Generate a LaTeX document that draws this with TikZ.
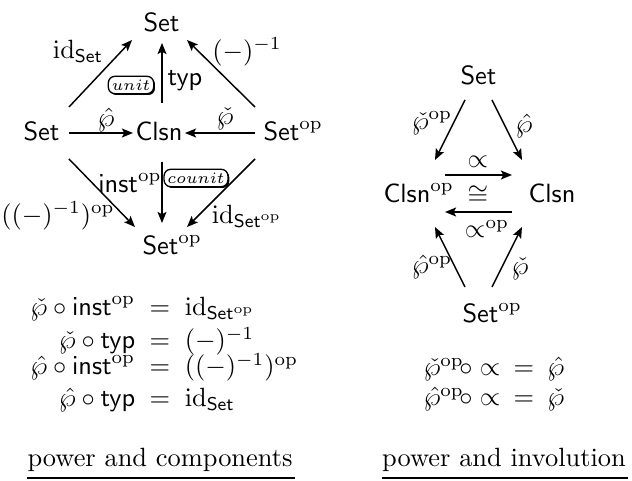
\documentclass[tikz,border=0pt]{standalone}
\usetikzlibrary{arrows.meta,shadows}
\begin{document}
\begin{tikzpicture}[x=0.3788pt,y=-0.3788pt,
  obj/.style={inner sep=0pt, anchor=base west},
  lbl/.style={inner sep=0pt},
  arr/.style={-{Stealth[length=4.2pt,width=3.4pt,inset=0.9pt]}, line width=0.55pt},
  cellbox/.style={draw, fill=white, rounded corners=2.5pt, line width=0.5pt, inner xsep=1.3pt, inner ysep=1.3pt, font=\fontsize{6}{7}\selectfont, drop shadow={shadow xshift=0.5pt, shadow yshift=-0.5pt, fill=black, opacity=1}},
  ul/.style={line width=1.1pt},
  eq/.style={inner sep=0pt, anchor=base}]
\useasboundingbox (0,0) rectangle (632,481);

% ---------- left diagram ----------
\node[obj] (sT) at (143,32) {$\mathsf{Set}$};
\node[obj] (sL) at (23,141) {$\mathsf{Set}$};
\node[obj] (cl) at (135,141) {$\mathsf{Clsn}$};
\node[obj] (sR) at (263,141) {$\mathsf{Set}^{\mathrm{op}}$};
\node[obj] (sB) at (142,255) {$\mathsf{Set}^{\mathrm{op}}$};

\draw[arr] ([shift={(9,-34)}]sL.base east) -- ([shift={(-11,8)}]sT.base west);
\draw[arr] ([shift={(-8,-34)}]sR.base west) -- ([shift={(44,8)}]sT.base west);
\draw[arr] ([shift={(9,-8)}]sL.base east) -- ([shift={(-2,-8)}]cl.base west);
\draw[arr] ([shift={(-8,-8)}]sR.base west) -- ([shift={(2,-8)}]cl.base east);
\draw[arr] ([shift={(27,-38)}]cl.base west) -- ([shift={(19,11)}]sT.base west);
\draw[arr] ([shift={(9,18)}]sL.base east) -- ([shift={(-7,-28)}]sB.base west);
\draw[arr] ([shift={(-8,18)}]sR.base west) -- ([shift={(45,-28)}]sB.base west);
\draw[arr] ([shift={(27,21)}]cl.base west) -- ([shift={(20,-32)}]sB.base west);

\node[lbl] (lidS) at (78,51) {$\mathrm{id}_{\mathsf{Set}}$};
\node[lbl] (linv) at (247,52) {$(-)^{-1}$};
\node[lbl] (ltyp) at (185,81) {$\mathsf{typ}$};
\node[cellbox] (unit) at (131,85) {$unit$};
\node[lbl] (lph) at (106,120) {$\hat\wp$};
\node[lbl] (lpc) at (225,119) {$\check\wp$};
\node[lbl] (linst) at (130,183) {$\mathsf{inst}^{\mathrm{op}}$};
\node[cellbox] (counit) at (196,178) {$counit$};
\node[lbl] (linvop) at (58,216) {$((-)^{-1})^{\mathrm{op}}$};
\node[lbl] (lidSop) at (247,216) {$\mathrm{id}_{\mathsf{Set}^{\mathrm{op}}}$};

\node[eq] (e1) at (160,316) {\llap{$\check\wp\circ\mathsf{inst}^{\mathrm{op}}$\hspace{5.5pt}}$=$\rlap{\hspace{5.5pt}$\mathrm{id}_{\mathsf{Set}^{\mathrm{op}}}$}};
\node[eq] (e2) at (160,349) {\llap{$\check\wp\circ\mathsf{typ}$\hspace{5.5pt}}$=$\rlap{\hspace{5.5pt}$(-)^{-1}$}};
\node[eq] (e3) at (160,375) {\llap{$\hat\wp\circ\mathsf{inst}^{\mathrm{op}}$\hspace{5.5pt}}$=$\rlap{\hspace{5.5pt}$((-)^{-1})^{\mathrm{op}}$}};
\node[eq] (e4) at (160,407) {\llap{$\hat\wp\circ\mathsf{typ}$\hspace{5.5pt}}$=$\rlap{\hspace{5.5pt}$\mathrm{id}_{\mathsf{Set}}$}};

\node[eq] (capL) at (160,467) {power and components};
\draw[ul] ([shift={(0,11)}]capL.base west) -- ([shift={(2,11)}]capL.base east);

% ---------- right diagram ----------
\node[obj] (rT) at (460,85) {$\mathsf{Set}$};
\node[obj] (rCo) at (383,203) {$\mathsf{Clsn}^{\mathrm{op}}$};
\node[obj] (rC) at (528,203) {$\mathsf{Clsn}$};
\node[obj] (rB) at (462,323) {$\mathsf{Set}^{\mathrm{op}}$};
\node[eq] (iso) at (478,203) {$\cong$};

\draw[arr] ([shift={(5,15)}]rT.base west) -- ([shift={(52,-43)}]rCo.base west);
\draw[arr] ([shift={(32,15)}]rT.base west) -- ([shift={(-6,-43)}]rC.base west);
\draw[arr] ([shift={(62,-28)}]rCo.base west) -- ([shift={(-16,-28)}]rC.base west);
\draw[arr] ([shift={(-16,9)}]rC.base west) -- ([shift={(62,9)}]rCo.base west);
\draw[arr] ([shift={(3,-36)}]rB.base west) -- ([shift={(52,24)}]rCo.base west);
\draw[arr] ([shift={(30,-36)}]rB.base west) -- ([shift={(-6,24)}]rC.base west);

\node[lbl] (rl1) at (432,123) {$\check\wp^{\mathrm{op}}$};
\node[lbl] (rl2) at (524,126) {$\hat\wp$};
\node[lbl] (rl3) at (478,162) {$\propto$};
\node[lbl] (rl4) at (487,229) {$\propto^{\mathrm{op}}$};
\node[lbl] (rl5) at (432,267) {$\hat\wp^{\mathrm{op}}$};
\node[lbl] (rl6) at (520,269) {$\check\wp$};

\node[eq] (r1) at (524,376) {\llap{$\check\wp^{\mathrm{op}}\!\circ\propto$\hspace{5pt}}$=$\rlap{\hspace{5pt}$\hat\wp$}};
\node[eq] (r2) at (524,406) {\llap{$\hat\wp^{\mathrm{op}}\!\circ\propto$\hspace{5pt}}$=$\rlap{\hspace{5pt}$\check\wp$}};

\node[eq] (capR) at (504,467) {power and involution};
\draw[ul] ([shift={(0,11)}]capR.base west) -- ([shift={(2,11)}]capR.base east);
\end{tikzpicture}
\end{document}
